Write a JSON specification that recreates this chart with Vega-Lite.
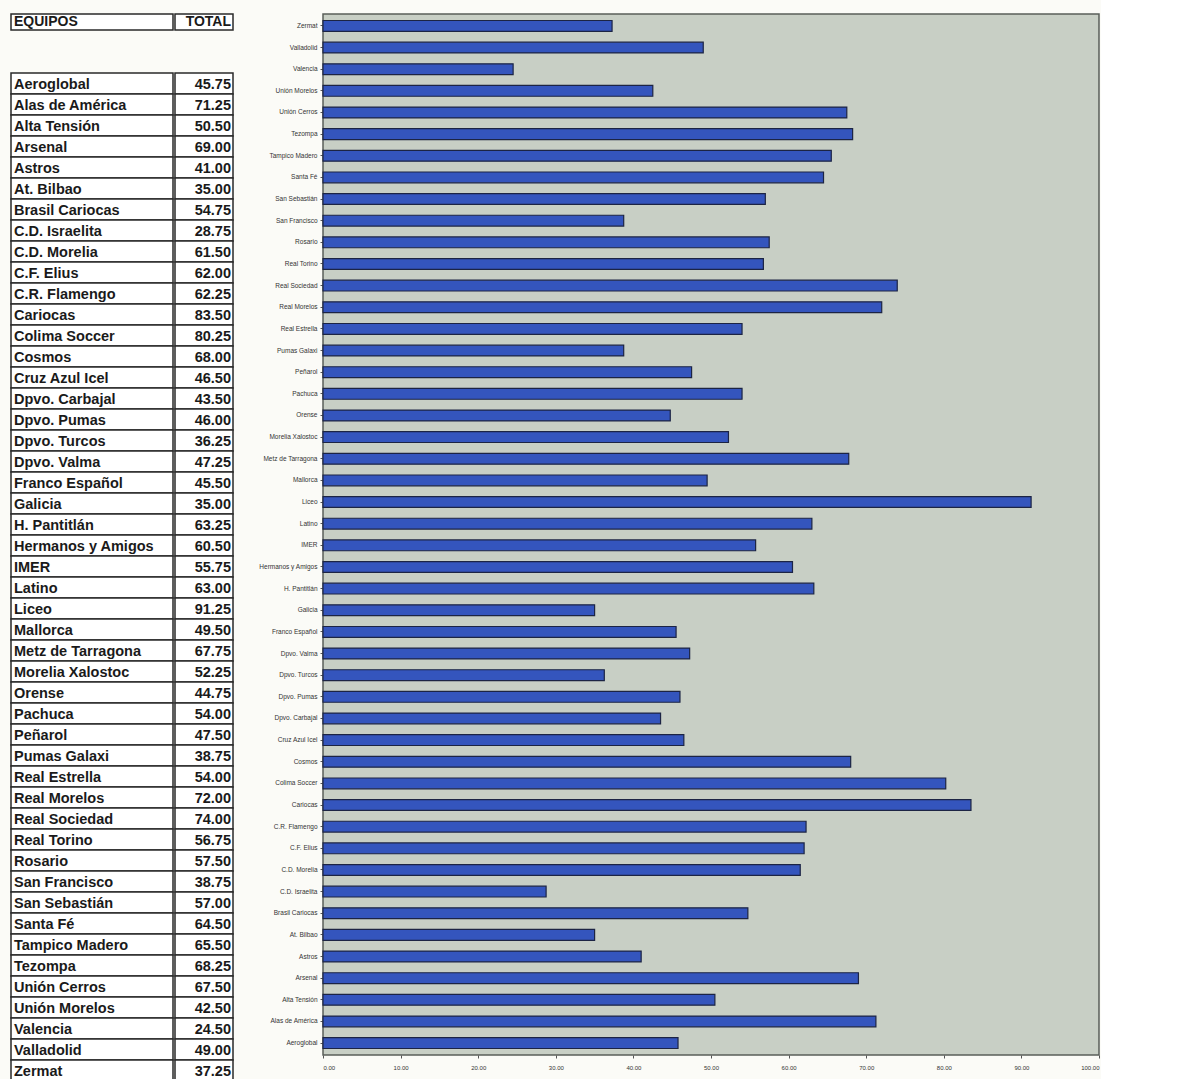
{
  "$schema": "https://vega.github.io/schema/vega-lite/v6.json",
  "padding": {"left": 10, "top": 13, "right": 0, "bottom": 0},
  "background": "#fbfbf7",
  "config": {
    "font": "Liberation Sans",
    "view": {"stroke": null},
    "concat": {"spacing": 0}
  },
  "datasets": {
    "teams": [
      {"team": "Aeroglobal", "total": 45.75},
      {"team": "Alas de América", "total": 71.25},
      {"team": "Alta Tensión", "total": 50.50},
      {"team": "Arsenal", "total": 69.00},
      {"team": "Astros", "total": 41.00},
      {"team": "At. Bilbao", "total": 35.00},
      {"team": "Brasil Cariocas", "total": 54.75},
      {"team": "C.D. Israelita", "total": 28.75},
      {"team": "C.D. Morelia", "total": 61.50},
      {"team": "C.F. Elius", "total": 62.00},
      {"team": "C.R. Flamengo", "total": 62.25},
      {"team": "Cariocas", "total": 83.50},
      {"team": "Colima Soccer", "total": 80.25},
      {"team": "Cosmos", "total": 68.00},
      {"team": "Cruz Azul Icel", "total": 46.50},
      {"team": "Dpvo. Carbajal", "total": 43.50},
      {"team": "Dpvo. Pumas", "total": 46.00},
      {"team": "Dpvo. Turcos", "total": 36.25},
      {"team": "Dpvo. Valma", "total": 47.25},
      {"team": "Franco Español", "total": 45.50},
      {"team": "Galicia", "total": 35.00},
      {"team": "H. Pantitlán", "total": 63.25},
      {"team": "Hermanos y Amigos", "total": 60.50},
      {"team": "IMER", "total": 55.75},
      {"team": "Latino", "total": 63.00},
      {"team": "Liceo", "total": 91.25},
      {"team": "Mallorca", "total": 49.50},
      {"team": "Metz de Tarragona", "total": 67.75},
      {"team": "Morelia Xalostoc", "total": 52.25},
      {"team": "Orense", "total": 44.75},
      {"team": "Pachuca", "total": 54.00},
      {"team": "Peñarol", "total": 47.50},
      {"team": "Pumas Galaxi", "total": 38.75},
      {"team": "Real Estrella", "total": 54.00},
      {"team": "Real Morelos", "total": 72.00},
      {"team": "Real Sociedad", "total": 74.00},
      {"team": "Real Torino", "total": 56.75},
      {"team": "Rosario", "total": 57.50},
      {"team": "San Francisco", "total": 38.75},
      {"team": "San Sebastián", "total": 57.00},
      {"team": "Santa Fé", "total": 64.50},
      {"team": "Tampico Madero", "total": 65.50},
      {"team": "Tezompa", "total": 68.25},
      {"team": "Unión Cerros", "total": 67.50},
      {"team": "Unión Morelos", "total": 42.50},
      {"team": "Valencia", "total": 24.50},
      {"team": "Valladolid", "total": 49.00},
      {"team": "Zermat", "total": 37.25}
    ],
    "header": [{"name": "EQUIPOS", "tot": "TOTAL"}]
  },
  "hconcat": [
    {
      "vconcat": [
        {
          "hconcat": [
            {
              "data": {"name": "header"},
              "width": 162,
              "height": 16,
              "layer": [
                {"mark": {"type": "rect", "fill": "#ffffff", "stroke": "#2a2a2a", "strokeWidth": 1.5}, "encoding": {}},
                {
                  "mark": {"type": "text", "align": "left", "baseline": "middle", "dx": 3, "fontSize": 14, "fontWeight": "bold", "color": "#1a1a1a"},
                  "encoding": {
                    "x": {"datum": 0, "type": "quantitative", "scale": {"domain": [0, 1]}, "axis": null},
                    "text": {"field": "name"}
                  }
                }
              ]
            },
            {
              "data": {"name": "header"},
              "width": 58,
              "height": 16,
              "layer": [
                {"mark": {"type": "rect", "fill": "#ffffff", "stroke": "#2a2a2a", "strokeWidth": 1.5}, "encoding": {}},
                {
                  "mark": {"type": "text", "align": "right", "baseline": "middle", "dx": -2, "fontSize": 14, "fontWeight": "bold", "color": "#1a1a1a"},
                  "encoding": {
                    "x": {"datum": 1, "type": "quantitative", "scale": {"domain": [0, 1]}, "axis": null},
                    "text": {"field": "tot"}
                  }
                }
              ]
            }
          ]
        },
        {
          "hconcat": [
            {
              "data": {"name": "teams"},
              "width": 162,
              "height": 1008,
              "encoding": {
                "y": {"field": "team", "type": "nominal", "sort": null, "axis": null, "scale": {"paddingInner": 0, "paddingOuter": 0}}
              },
              "layer": [
                {"mark": {"type": "rect", "fill": "#ffffff", "stroke": "#2a2a2a", "strokeWidth": 1.5}},
                {
                  "mark": {"type": "text", "align": "left", "baseline": "middle", "dx": 3, "dy": 1, "fontSize": 14.5, "fontWeight": "bold", "color": "#1a1a1a"},
                  "encoding": {
                    "x": {"datum": 0, "type": "quantitative", "scale": {"domain": [0, 1]}, "axis": null},
                    "text": {"field": "team"}
                  }
                }
              ]
            },
            {
              "data": {"name": "teams"},
              "width": 58,
              "height": 1008,
              "encoding": {
                "y": {"field": "team", "type": "nominal", "sort": null, "axis": null, "scale": {"paddingInner": 0, "paddingOuter": 0}}
              },
              "layer": [
                {"mark": {"type": "rect", "fill": "#ffffff", "stroke": "#2a2a2a", "strokeWidth": 1.5}},
                {
                  "mark": {"type": "text", "align": "right", "baseline": "middle", "dx": -2, "dy": 1, "fontSize": 14.5, "fontWeight": "bold", "color": "#1a1a1a"},
                  "encoding": {
                    "x": {"datum": 1, "type": "quantitative", "scale": {"domain": [0, 1]}, "axis": null},
                    "text": {"field": "total", "type": "quantitative", "format": ".2f"}
                  }
                }
              ]
            }
          ]
        }
      ],
      "spacing": 41
    },
    {
      "data": {"name": "teams"},
      "width": 776,
      "height": 1041,
      "view": {"fill": "#c8cfc5", "stroke": "#5a5f5a", "strokeWidth": 1.5},
      "mark": {"type": "bar", "fill": "#3455bd", "stroke": "#1c2444", "strokeWidth": 1.2},
      "encoding": {
        "y": {
          "field": "team",
          "type": "nominal",
          "sort": "descending",
          "title": null,
          "scale": {"paddingInner": 0.5, "paddingOuter": 0.3},
          "axis": {"labelFontSize": 6.5, "labelColor": "#333333", "tickSize": 3, "tickColor": "#555555", "domain": false, "labelPadding": 3, "minExtent": 88, "maxExtent": 88}
        },
        "x": {
          "field": "total",
          "type": "quantitative",
          "title": null,
          "scale": {"domain": [0, 100], "nice": false},
          "axis": {"values": [0, 10, 20, 30, 40, 50, 60, 70, 80, 90, 100], "format": ".2f", "labelFontSize": 6, "labelColor": "#333333", "grid": false, "domain": false, "tickSize": 3, "tickColor": "#555555", "labelPadding": 6}
        }
      }
    }
  ],
  "spacing": 0
}
